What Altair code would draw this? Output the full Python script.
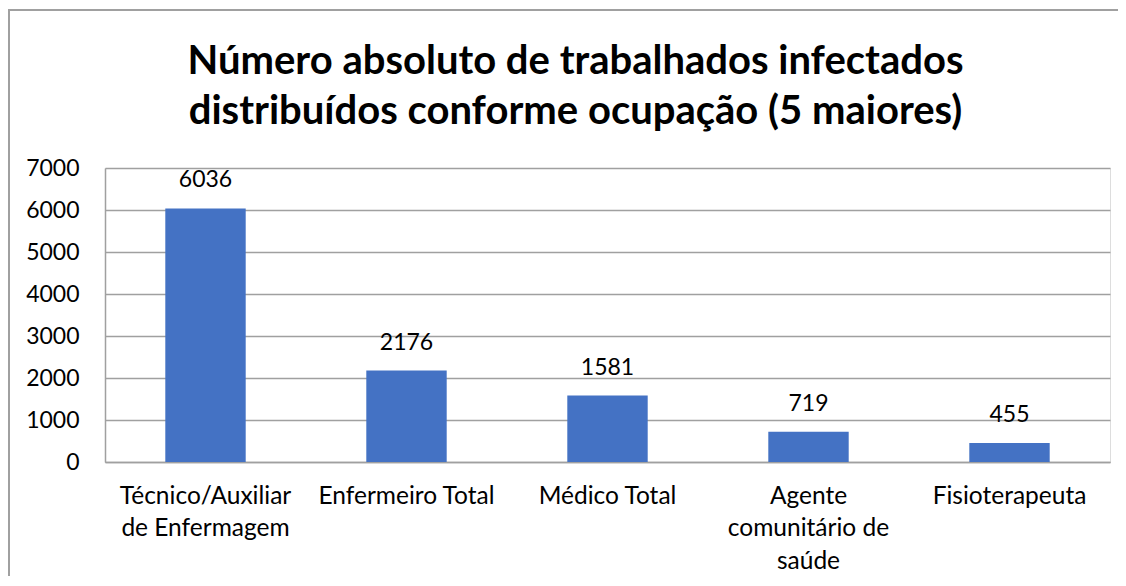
import altair as alt
import pandas as pd

categories = [
    "Técnico/Auxiliar de Enfermagem",
    "Enfermeiro Total",
    "Médico Total",
    "Agente comunitário de saúde",
    "Fisioterapeuta",
]
label_lines = [
    ["Técnico/Auxiliar", "de Enfermagem"],
    ["Enfermeiro Total"],
    ["Médico Total"],
    ["Agente", "comunitário de", "saúde"],
    ["Fisioterapeuta"],
]
values = [6036, 2176, 1581, 719, 455]
y_ticks = [0, 1000, 2000, 3000, 4000, 5000, 6000, 7000]
title_lines = [
    "Número absoluto de trabalhados infectados",
    "distribuídos conforme ocupação (5 maiores)",
]

df = pd.DataFrame({"cat": categories, "val": values})

def js_arr(lines):
    return "[" + ",".join("'" + l + "'" for l in lines) + "]"

expr = "''"
for c, lines in reversed(list(zip(categories, label_lines))):
    expr = f"datum.value == '{c}' ? {js_arr(lines)} : ({expr})"

FONT = "Lato"
W, H = 1005, 294

x_enc = alt.X(
    "cat:N",
    sort=categories,
    title=None,
    scale=alt.Scale(paddingInner=0.6, paddingOuter=0.3),
    axis=alt.Axis(
        labelExpr=expr,
        labelAngle=0,
        labelFontSize=24.5,
        labelFont=FONT,
        labelColor="#000000",
        labelLineHeight=32.5,
        labelPadding=22,
        labelBaseline="top",
        ticks=False,
        domainColor="#a0a0a0",
        domainWidth=1.5,
        grid=False,
    ),
)
y_enc = alt.Y(
    "val:Q",
    title=None,
    scale=alt.Scale(domain=[0, 7000], nice=False),
    axis=alt.Axis(
        values=y_ticks,
        format="d",
        labelFontSize=23,
        labelFont=FONT,
        labelColor="#000000",
        labelPadding=26,
        ticks=False,
        domain=True,
        domainColor="#a0a0a0",
        domainWidth=1.5,
        gridColor="#a0a0a0",
        gridWidth=1.5,
    ),
)

bars = alt.Chart(df).mark_bar(color="#4472C4").encode(x=x_enc, y=y_enc)
labels = alt.Chart(df).mark_text(
    baseline="bottom", dy=-16, fontSize=23, font=FONT, color="#000000"
).encode(x=alt.X("cat:N", sort=categories), y="val:Q", text="val:Q")

# outer chart border (decoration), extends past the picture on right/bottom
border = alt.Chart(df).mark_rect(
    fill=None, fillOpacity=0, stroke="#a0a0a0", strokeWidth=1.5
).encode(
    x=alt.value(-96), x2=alt.value(1060), y=alt.value(-158), y2=alt.value(480)
)

chart = (
    alt.layer(bars, labels, border)
    .properties(
        width=W,
        height=H,
        autosize=alt.AutoSizeParams(type="none"),
        padding={"left": 97, "top": 160, "right": 8, "bottom": 114},
        title=alt.TitleParams(
            text=title_lines,
            fontSize=40,
            font=FONT,
            fontWeight="bold",
            color="#000000",
            anchor="middle",
            dx=-32,
            lineHeight=50,
            offset=-123,
        ),
    )
    .configure_view(stroke=None)
    .configure(background="white")
)

chart.save("out.html", embed_options={"renderer": "svg", "actions": False})
